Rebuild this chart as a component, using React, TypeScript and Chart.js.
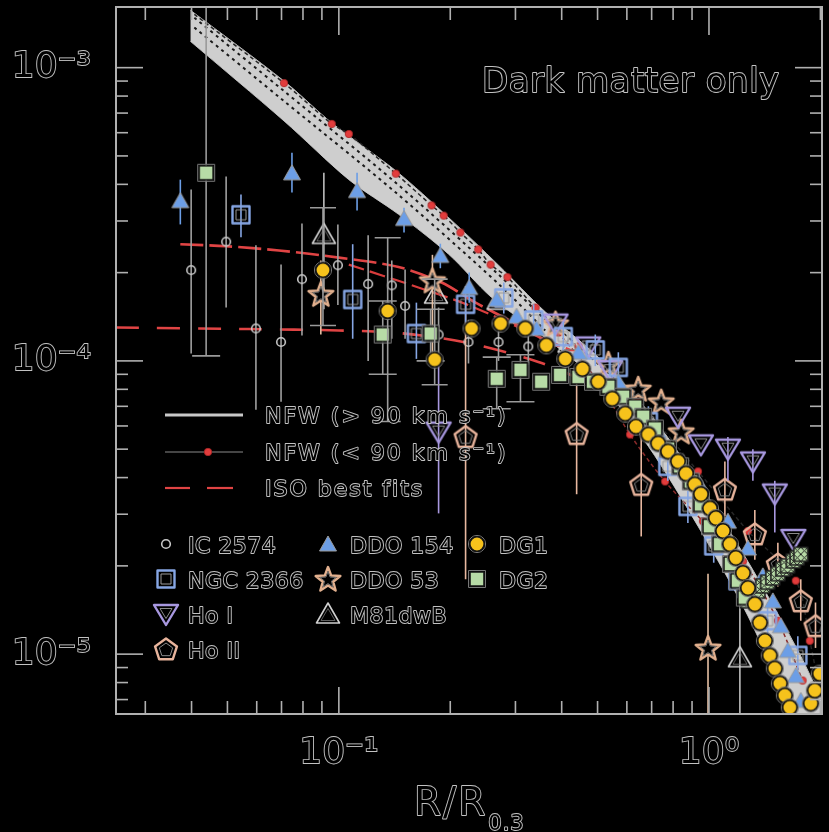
import React, { useEffect, useRef } from 'react';
import { Chart, registerables } from 'chart.js';

Chart.register(...registerables);

// ---------- axes ----------
const X_MIN = 0.025;
const X_MAX = 2.02;
const Y_MIN = 6.25e-6;
const Y_MAX = 1.61e-3;
const xTickValues = [0.1, 1];
const xTickLabels = ['10⁻¹', '10⁰'];
const yTickValues = [1e-5, 1e-4, 1e-3];
const yTickLabels = ['10⁻⁵', '10⁻⁴', '10⁻³'];
const xMinorTicks = [0.03, 0.04, 0.05, 0.06, 0.07, 0.08, 0.09, 0.2, 0.3, 0.4, 0.5, 0.6, 0.7, 0.8, 0.9, 2];
const yMinorTicks = [7e-6, 8e-6, 9e-6, 2e-5, 3e-5, 4e-5, 5e-5, 6e-5, 7e-5, 8e-5, 9e-5, 2e-4, 3e-4, 4e-4, 5e-4, 6e-4, 7e-4, 8e-4, 9e-4];
const xTitleMain = 'R/R';
const xTitleSub = '0.3';
const panelLabel = 'Dark matter only';
const lineLegendLabels = ['NFW (> 90 km s⁻¹)', 'NFW (< 90 km s⁻¹)', 'ISO best fits'];

// ---------- galaxies ----------
const ic2574X = [0.0399, 0.0496, 0.0597, 0.0698, 0.0795, 0.0994, 0.120, 0.139, 0.151, 0.186, 0.224, 0.270, 0.325];
const ic2574Y = [2.04e-4, 2.55e-4, 1.29e-4, 1.16e-4, 1.90e-4, 2.12e-4, 1.83e-4, 1.81e-4, 1.54e-4, 1.23e-4, 1.16e-4, 1.16e-4, 1.12e-4];
const ic2574Lo = [1.06e-4, 1.52e-4, 6.81e-5, 7.26e-5, 1.22e-4, 1.55e-4, 1.0e-4, 1.19e-4, 1.19e-4, 1.03e-4, 9.8e-5, 1.0e-4, 9.7e-5];
const ic2574Hi = [3.84e-4, 4.25e-4, 2.48e-4, 2.13e-4, 2.94e-4, 2.92e-4, 2.68e-4, 2.2e-4, 2.05e-4, 1.52e-4, 1.38e-4, 1.35e-4, 1.3e-4];

const ngc2366X = [0.0544, 0.109, 0.162, 0.220, 0.279, 0.336, 0.404, 0.493, 0.569, 0.686, 0.774, 0.877, 1.03, 1.197, 1.44, 1.738];
const ngc2366Y = [3.15e-4, 1.62e-4, 1.24e-4, 1.56e-4, 1.64e-4, 1.38e-4, 1.21e-4, 1.09e-4, 9.5e-5, 6.21e-5, 4.37e-5, 3.19e-5, 2.34e-5, 1.78e-5, 1.30e-5, 9.9e-6];
const ngc2366Lo = [2.64e-4, 1.19e-4, 1.016e-4, 1.35e-4, 1.45e-4, 1.22e-4, 1.08e-4, 9.6e-5, 8.4e-5, 5.5e-5, 3.9e-5, 2.8e-5, 2.05e-5, 1.55e-5, 1.12e-5, 8.5e-6];
const ngc2366Hi = [3.69e-4, 2.5e-4, 1.58e-4, 1.8e-4, 1.85e-4, 1.56e-4, 1.36e-4, 1.23e-4, 1.07e-4, 7.0e-5, 4.9e-5, 3.6e-5, 2.65e-5, 2.05e-5, 1.5e-5, 1.15e-5];

const hoIX = [0.186, 0.385, 0.472, 0.541, 0.825, 0.951, 1.125, 1.314, 1.506, 1.69];
const hoIY = [5.74e-5, 1.34e-4, 1.12e-4, 9.3e-5, 6.45e-5, 5.19e-5, 5.02e-5, 4.54e-5, 3.53e-5, 2.47e-5];
const hoILo = [3.02e-5, null, null, null, null, null, 3.9e-5, 3.9e-5, 2.6e-5, null];
const hoIHi = [1.0e-4, null, null, null, null, null, 5.5e-5, 5.0e-5, 3.9e-5, null];

const hoIIX = [0.220, 0.439, 0.656, 1.104, 1.33, 1.535, 1.77, 1.94];
const hoIIY = [5.52e-5, 5.65e-5, 3.79e-5, 3.65e-5, 2.57e-5, 2.03e-5, 1.52e-5, 1.25e-5];
const hoIILo = [1.80e-5, 3.51e-5, 2.52e-5, 2.95e-5, 2.1e-5, 1.7e-5, 1.3e-5, 1.05e-5];
const hoIIHi = [1.58e-4, 9.5e-5, 5.74e-5, 4.54e-5, 3.1e-5, 2.4e-5, 1.8e-5, 1.5e-5];

const ddo154X = [0.0373, 0.0747, 0.112, 0.150, 0.188, 0.225, 0.267, 0.302, 0.342, 0.444, 0.569, 0.729, 0.934, 1.125, 1.274, 1.398, 1.488, 1.563, 1.633, 1.716, 1.77];
const ddo154Y = [3.52e-4, 4.38e-4, 3.81e-4, 3.06e-4, 2.29e-4, 1.78e-4, 1.62e-4, 1.42e-4, 1.29e-4, 1.07e-4, 8.49e-5, 5.74e-5, 3.88e-5, 2.84e-5, 2.30e-5, 1.85e-5, 1.52e-5, 1.25e-5, 1.03e-5, 8.45e-6, 6.95e-6];
const ddo154Lo = [2.92e-4, 3.75e-4, 3.26e-4, 2.74e-4, 2.07e-4, 1.58e-4, null, null, null, null, null, null, null, null, null, null, null, null, null, null, null];
const ddo154Hi = [4.15e-4, 5.13e-4, 4.38e-4, 3.33e-4, 2.51e-4, 2.0e-4, null, null, null, null, null, null, null, null, null, null, null, null, null, null, null];

const ddo53X = [0.0894, 0.179, 0.385, 0.535, 0.644, 0.743, 0.841, 0.994];
const ddo53Y = [1.69e-4, 1.88e-4, 1.34e-4, 9.77e-5, 8.03e-5, 7.26e-5, 5.74e-5, 1.05e-5];
const ddo53Lo = [1.23e-4, 1.0e-4, null, null, null, null, null, 6.0e-6];
const ddo53Hi = [2.2e-4, 2.3e-4, null, null, null, null, null, 1.88e-5];

const m81dwbX = [0.0911, 0.183, 0.270, 0.42, 1.212];
const m81dwbY = [2.70e-4, 1.69e-4, 1.61e-4, 1.15e-4, 9.73e-6];
const m81dwbLo = [1.5e-4, null, null, null, 6.0e-6];
const m81dwbHi = [4.38e-4, null, null, null, 1.88e-5];

const dg1X = [0.0906, 0.1355, 0.1815, 0.2283, 0.2734, 0.319, 0.3636, 0.409, 0.455, 0.502, 0.548, 0.594, 0.635, 0.686, 0.729, 0.775, 0.825, 0.867, 0.916, 0.951, 1.006, 1.044, 1.091, 1.139, 1.182, 1.235, 1.274, 1.330, 1.372, 1.416, 1.459, 1.506, 1.554, 1.603, 1.653, 1.884, 1.931, 1.992];
const dg1Y = [2.04e-4, 1.48e-4, 1.01e-4, 1.29e-4, 1.34e-4, 1.29e-4, 1.13e-4, 1.016e-4, 9.39e-5, 8.49e-5, 7.43e-5, 6.61e-5, 5.97e-5, 5.61e-5, 5.23e-5, 4.91e-5, 4.54e-5, 4.13e-5, 3.79e-5, 3.51e-5, 3.14e-5, 2.91e-5, 2.63e-5, 2.37e-5, 2.13e-5, 1.89e-5, 1.68e-5, 1.48e-5, 1.28e-5, 1.11e-5, 9.89e-6, 8.93e-6, 7.94e-6, 7.23e-6, 6.58e-6, 6.79e-6, 7.52e-6, 8.58e-6];
const dg1Lo = [1.32e-4, 6.21e-5, 8.29e-5];
const dg1Hi = [3.33e-4, 2.63e-4, 1.9e-4];

const dg2X = [0.0438, 0.1314, 0.177, 0.267, 0.3095, 0.352, 0.396, 0.444, 0.486, 0.535, 0.586, 0.632, 0.664, 0.714, 0.775, 0.836, 0.893, 0.951, 1.006, 1.071, 1.146, 1.197, 1.25];
const dg2Y = [4.38e-4, 1.23e-4, 1.24e-4, 8.69e-5, 9.32e-5, 8.49e-5, 8.96e-5, 8.82e-5, 8.49e-5, 8.16e-5, 7.55e-5, 6.98e-5, 6.45e-5, 5.88e-5, 5.02e-5, 4.37e-5, 3.88e-5, 3.24e-5, 2.73e-5, 2.37e-5, 2.03e-5, 1.78e-5, 1.56e-5];
const dg2Lo = [1.04e-4, 9.0e-5, 1.0e-4, 6.87e-5, 7.26e-5];
const dg2Hi = [1.7e-3, 1.6e-4, 1.5e-4, 1.03e-4, 1.05e-4];

const dg2OuterX = [1.27, 1.314, 1.355, 1.398, 1.44, 1.488, 1.535, 1.583, 1.63, 1.69, 1.73, 1.77];
const dg2OuterY = [1.52e-5, 1.58e-5, 1.64e-5, 1.71e-5, 1.76e-5, 1.82e-5, 1.88e-5, 1.95e-5, 2.0e-5, 2.08e-5, 2.13e-5, 2.19e-5];

// ---------- models ----------
const nfwBandX = [0.0397, 0.0711, 0.0957, 0.1425, 0.198, 0.270, 0.361, 0.502, 0.686, 0.934, 1.274, 1.738, 2.02];
const nfwBandUpper = [1.57e-3, 9.0e-4, 6.48e-4, 4.45e-4, 3.08e-4, 2.12e-4, 1.47e-4, 1.03e-4, 6.71e-5, 3.88e-5, 2.07e-5, 1.03e-5, 6.95e-6];
const nfwBandLowerX = [0.0397, 0.0711, 0.1064, 0.145, 0.198, 0.258, 0.346, 0.502, 0.686, 0.934, 1.274, 1.633, 2.02];
const nfwBandLower = [1.23e-3, 6.58e-4, 4.15e-4, 3.16e-4, 2.31e-4, 1.65e-4, 1.25e-4, 8.49e-5, 5.11e-5, 2.73e-5, 1.35e-5, 6.68e-6, 3.5e-6];

const nfwLowAX = [0.0407, 0.0711, 0.0957, 0.1064, 0.1425, 0.178, 0.192, 0.213, 0.238, 0.257, 0.2855, 0.340, 0.444, 0.644, 0.934, 1.274, 1.716, 1.872, 1.992];
const nfwLowAY = [1.52e-3, 8.86e-4, 6.43e-4, 5.94e-4, 4.35e-4, 3.39e-4, 3.13e-4, 2.74e-4, 2.40e-4, 2.13e-4, 1.93e-4, 1.52e-4, 1.12e-4, 7.26e-5, 4.2e-5, 2.63e-5, 1.78e-5, 1.11e-5, 7.52e-6];
const nfwLowBX = [0.392, 0.502, 0.612, 0.761, 0.963, 1.235, 1.535, 1.79];
const nfwLowBY = [1.25e-4, 8.49e-5, 5.61e-5, 3.88e-5, 2.84e-5, 2.07e-5, 1.30e-5, 8.13e-6];

const nfwDash1X = [0.0407, 0.0711, 0.1425, 0.270, 0.361];
const nfwDash1Y = [1.48e-3, 8.32e-4, 4.05e-4, 1.97e-4, 1.38e-4];
const nfwDash2X = [0.0407, 0.0711, 0.1425, 0.270, 0.361];
const nfwDash2Y = [1.37e-3, 7.69e-4, 3.75e-4, 1.83e-4, 1.27e-4];

const iso1X = [0.025, 0.0572, 0.1, 0.145, 0.217, 0.346, 0.502];
const iso1Y = [1.30e-4, 1.284e-4, 1.27e-4, 1.245e-4, 1.16e-4, 9.92e-5, 8.16e-5];
const iso2X = [0.0373, 0.0496, 0.0689, 0.1, 0.145, 0.1895, 0.234, 0.287, 0.346, 0.444];
const iso2Y = [2.50e-4, 2.46e-4, 2.38e-4, 2.25e-4, 2.09e-4, 1.85e-4, 1.58e-4, 1.38e-4, 1.21e-4, 1.06e-4];
const iso3X = [0.1064, 0.164, 0.224, 0.306, 0.392];
const iso3Y = [2.13e-4, 1.78e-4, 1.55e-4, 1.30e-4, 1.12e-4];

// ---------- helpers ----------
const pts = (xs: number[], ys: number[]) => xs.map((x, i) => ({ x, y: ys[i] }));

function mk(size: number, draw: (c: CanvasRenderingContext2D, m: number) => void) {
  const cv = document.createElement('canvas');
  cv.width = size;
  cv.height = size;
  const c = cv.getContext('2d') as CanvasRenderingContext2D;
  c.lineJoin = 'round';
  draw(c, size / 2);
  return cv;
}
function poly(c: CanvasRenderingContext2D, cx: number, cy: number, r: number, n: number, rot: number) {
  c.beginPath();
  for (let i = 0; i < n; i++) {
    const a = rot + (i * 2 * Math.PI) / n;
    const x = cx + r * Math.cos(a);
    const y = cy + r * Math.sin(a);
    if (i) c.lineTo(x, y); else c.moveTo(x, y);
  }
  c.closePath();
}
function starPath(c: CanvasRenderingContext2D, cx: number, cy: number, ro: number, ri: number) {
  c.beginPath();
  for (let i = 0; i < 10; i++) {
    const r = i % 2 ? ri : ro;
    const a = -Math.PI / 2 + (i * Math.PI) / 5;
    const x = cx + r * Math.cos(a);
    const y = cy + r * Math.sin(a);
    if (i) c.lineTo(x, y); else c.moveTo(x, y);
  }
  c.closePath();
}

function makeMarkers() {
  return {
    ic: mk(14, (c, m) => {
      c.beginPath(); c.arc(m, m, 4.3, 0, Math.PI * 2);
      c.strokeStyle = '#c8c8c8'; c.lineWidth = 1.6; c.stroke();
    }),
    ngc: mk(22, (c) => {
      c.strokeStyle = '#86a6e4'; c.lineWidth = 2.4; c.strokeRect(2.5, 2.5, 17, 17);
      c.strokeStyle = '#9a9a9a'; c.lineWidth = 1; c.strokeRect(6, 6, 10, 10);
    }),
    hoI: mk(28, (c) => {
      c.beginPath(); c.moveTo(2, 5); c.lineTo(26, 5); c.lineTo(14, 25); c.closePath();
      c.strokeStyle = '#a898e0'; c.lineWidth = 2.4; c.stroke();
      c.beginPath(); c.moveTo(8, 8.5); c.lineTo(20, 8.5); c.lineTo(14, 18.5); c.closePath();
      c.strokeStyle = '#8a8a8a'; c.lineWidth = 1; c.stroke();
    }),
    hoII: mk(28, (c, m) => {
      poly(c, m, m + 1, 11.5, 5, -Math.PI / 2);
      c.strokeStyle = '#e8b49c'; c.lineWidth = 2.4; c.stroke();
      poly(c, m, m + 1, 7, 5, -Math.PI / 2);
      c.strokeStyle = '#8a8a8a'; c.lineWidth = 1; c.stroke();
    }),
    ddo154: mk(20, (c) => {
      c.beginPath(); c.moveTo(10, 2); c.lineTo(18.5, 17); c.lineTo(1.5, 17); c.closePath();
      c.fillStyle = '#6c9ee6'; c.fill();
      c.strokeStyle = '#9a9a9a'; c.lineWidth = 1; c.stroke();
    }),
    ddo53: mk(30, (c, m) => {
      starPath(c, m, m + 1, 13, 5.5);
      c.fillStyle = '#000'; c.fill();
      c.strokeStyle = '#e2b08e'; c.lineWidth = 2.4; c.stroke();
      starPath(c, m, m + 1, 8.5, 3.6);
      c.strokeStyle = '#777'; c.lineWidth = 1; c.stroke();
    }),
    m81: mk(26, (c) => {
      c.beginPath(); c.moveTo(13, 2); c.lineTo(24.5, 22); c.lineTo(1.5, 22); c.closePath();
      c.strokeStyle = '#d0d0d0'; c.lineWidth = 1.6; c.stroke();
      c.beginPath(); c.moveTo(13, 7.5); c.lineTo(20, 19.5); c.lineTo(6, 19.5); c.closePath();
      c.strokeStyle = '#777'; c.lineWidth = 0.8; c.stroke();
    }),
    dg1: mk(20, (c, m) => {
      c.beginPath(); c.arc(m, m, 8.6, 0, Math.PI * 2);
      c.strokeStyle = '#777'; c.lineWidth = 1; c.stroke();
      c.beginPath(); c.arc(m, m, 7.2, 0, Math.PI * 2);
      c.fillStyle = '#f6c21c'; c.fill();
      c.strokeStyle = '#141414'; c.lineWidth = 1.6; c.stroke();
    }),
    dg2: mk(20, (c) => {
      c.strokeStyle = '#777'; c.lineWidth = 1; c.strokeRect(1.5, 1.5, 17, 17);
      c.fillStyle = '#b7dba6'; c.fillRect(3, 3, 14, 14);
      c.strokeStyle = '#141414'; c.lineWidth = 1.6; c.strokeRect(3, 3, 14, 14);
    }),
    dg2h: mk(20, (c) => {
      c.fillStyle = '#b7dba6'; c.fillRect(3, 3, 14, 14);
      c.strokeStyle = '#1e1e1e'; c.lineWidth = 1;
      c.beginPath();
      c.moveTo(3, 10); c.lineTo(10, 3); c.moveTo(3, 17); c.lineTo(17, 3); c.moveTo(10, 17); c.lineTo(17, 10);
      c.moveTo(3, 10); c.lineTo(10, 17); c.moveTo(3, 3); c.lineTo(17, 17); c.moveTo(10, 3); c.lineTo(17, 10);
      c.stroke();
      c.lineWidth = 1.6; c.strokeRect(3, 3, 14, 14);
    }),
    nfwDot: mk(10, (c, m) => {
      c.beginPath(); c.arc(m, m, 3.7, 0, Math.PI * 2);
      c.fillStyle = '#e23c3c'; c.fill();
      c.strokeStyle = '#a82626'; c.lineWidth = 0.8; c.stroke();
    }),
  };
}

function hollowText(ctx: CanvasRenderingContext2D, text: string, x: number, y: number, size: number, align: CanvasTextAlign = 'left', spacing = '0px') {
  ctx.save();
  ctx.font = `${size}px "DejaVu Sans"`;
  ctx.textAlign = align;
  ctx.textBaseline = 'alphabetic';
  (ctx as any).letterSpacing = spacing;
  ctx.lineJoin = 'round';
  ctx.strokeStyle = '#c2c2c2';
  ctx.lineWidth = 1.8;
  ctx.strokeText(text, x, y);
  ctx.fillStyle = '#000';
  ctx.fillText(text, x, y);
  const w = ctx.measureText(text).width;
  ctx.restore();
  return w;
}

export default function App() {
  const ref = useRef<HTMLCanvasElement>(null);

  useEffect(() => {
    const canvas = ref.current as HTMLCanvasElement;
    const M = makeMarkers();

    const errorBars = {
      id: 'errorBars',
      beforeDatasetDraw(chart: any, args: any) {
        const ds: any = chart.data.datasets[args.index];
        if (!ds.errLo) return;
        const { ctx, chartArea: a } = chart;
        const xs = chart.scales.x;
        const ys = chart.scales.y;
        ctx.save();
        ctx.beginPath();
        ctx.rect(a.left, a.top, a.right - a.left, a.bottom - a.top);
        ctx.clip();
        ctx.strokeStyle = ds.errColor;
        ctx.lineWidth = 1.6;
        ds.data.forEach((p: any, i: number) => {
          const lo = ds.errLo[i];
          const hi = ds.errHi[i];
          if (lo == null || hi == null) return;
          const px = xs.getPixelForValue(p.x);
          const y1 = ys.getPixelForValue(hi);
          const y2 = ys.getPixelForValue(lo);
          ctx.beginPath();
          ctx.moveTo(px, y1);
          ctx.lineTo(px, y2);
          if (ds.errCap) {
            ctx.moveTo(px - ds.errCap, y2);
            ctx.lineTo(px + ds.errCap, y2);
            ctx.moveTo(px - ds.errCap, y1);
            ctx.lineTo(px + ds.errCap, y1);
          }
          ctx.stroke();
        });
        ctx.restore();
      },
    };

    const decor = {
      id: 'decor',
      afterDatasetsDraw(chart: any) {
        const { ctx, chartArea: a } = chart;
        const xs = chart.scales.x;
        const ys = chart.scales.y;
        ctx.save();
        ctx.strokeStyle = '#b0b0b0';
        ctx.lineWidth = 1.6;
        const seg = (x1: number, y1: number, x2: number, y2: number) => {
          ctx.beginPath(); ctx.moveTo(x1, y1); ctx.lineTo(x2, y2); ctx.stroke();
        };
        xTickValues.forEach((v) => { const p = xs.getPixelForValue(v); seg(p, a.bottom, p, a.bottom - 27); seg(p, a.top, p, a.top + 28); });
        xMinorTicks.forEach((v) => { const p = xs.getPixelForValue(v); seg(p, a.bottom, p, a.bottom - 13); seg(p, a.top, p, a.top + 13); });
        yTickValues.forEach((v) => { const p = ys.getPixelForValue(v); seg(a.left, p, a.left + 27, p); seg(a.right, p, a.right - 27, p); });
        yMinorTicks.forEach((v) => { const p = ys.getPixelForValue(v); seg(a.left, p, a.left + 12, p); seg(a.right, p, a.right - 12, p); });
        ctx.lineWidth = 2;
        ctx.strokeRect(a.left, a.top, a.right - a.left, a.bottom - a.top);

        // panel label
        hollowText(ctx, panelLabel, 482, 92, 34, 'left', '0.5px');

        // legend: model lines
        ctx.lineWidth = 3; ctx.strokeStyle = '#c8c8c8';
        seg(165, 415, 243, 415);
        ctx.lineWidth = 1; ctx.strokeStyle = '#8a8a8a';
        seg(165, 452, 243, 452);
        ctx.drawImage(M.nfwDot, 208 - 5, 452 - 5);
        ctx.lineWidth = 2.2; ctx.strokeStyle = '#e04444';
        seg(165, 488, 190, 488);
        seg(207, 488, 233, 488);
        hollowText(ctx, lineLegendLabels[0], 265, 423, 22, 'left', '2px');
        hollowText(ctx, lineLegendLabels[1], 265, 460, 22, 'left', '2px');
        hollowText(ctx, lineLegendLabels[2], 265, 496, 22, 'left', '2px');

        // legend: galaxies
        const items: [HTMLCanvasElement, string, number, number][] = [
          [M.ic, 'IC 2574', 166, 544], [M.ngc, 'NGC 2366', 166, 579], [M.hoI, 'Ho I', 166, 614], [M.hoII, 'Ho II', 166, 649],
          [M.ddo154, 'DDO 154', 328, 544], [M.ddo53, 'DDO 53', 328, 579], [M.m81, 'M81dwB', 328, 614],
          [M.dg1, 'DG1', 477, 544], [M.dg2, 'DG2', 477, 579],
        ];
        items.forEach(([img, name, x, y]) => {
          ctx.drawImage(img, x - img.width / 2, y - img.height / 2);
          hollowText(ctx, name, x + 22, y + 8.5, 22, 'left', '0.5px');
        });

        // x-axis title with subscript
        const w = hollowText(ctx, xTitleMain, 414, 815, 39, 'left', '2px');
        hollowText(ctx, xTitleSub, 414 + w + 1, 830, 21, 'left', '1px');
        ctx.restore();
      },
    };

    const scatterSet = (label: string, xsArr: number[], ysArr: number[], marker: HTMLCanvasElement, errLo?: (number | null)[], errHi?: (number | null)[], errColor?: string, errCap?: number) => ({
      label,
      data: pts(xsArr, ysArr),
      showLine: false,
      pointStyle: marker,
      pointRadius: 6,
      clip: 0,
      errLo,
      errHi,
      errColor,
      errCap,
    });
    const lineSet = (label: string, xsArr: number[], ysArr: number[], color: string, width: number, dash: number[], extra: any = {}) => ({
      label,
      data: pts(xsArr, ysArr),
      showLine: true,
      borderColor: color,
      borderWidth: width,
      borderDash: dash,
      pointRadius: 0,
      tension: 0.3,
      fill: false,
      clip: 0,
      ...extra,
    });

    const dg1Err = dg1X.map((_, i) => (i < dg1Lo.length ? dg1Lo[i] : null));
    const dg1ErrH = dg1X.map((_, i) => (i < dg1Hi.length ? dg1Hi[i] : null));
    const dg2Err = dg2X.map((_, i) => (i < dg2Lo.length ? dg2Lo[i] : null));
    const dg2ErrH = dg2X.map((_, i) => (i < dg2Hi.length ? dg2Hi[i] : null));

    const datasets: any[] = [
      scatterSet('DG1', dg1X, dg1Y, M.dg1, dg1Err, dg1ErrH, '#9a9a9a', 13),
      scatterSet('DG2', dg2X, dg2Y, M.dg2, dg2Err, dg2ErrH, '#9a9a9a', 14),
      scatterSet('DG2 (outer)', dg2OuterX, dg2OuterY, M.dg2h),
      scatterSet('DDO 154', ddo154X, ddo154Y, M.ddo154, ddo154Lo, ddo154Hi, '#6c9ee6'),
      scatterSet('NGC 2366', ngc2366X, ngc2366Y, M.ngc, ngc2366Lo, ngc2366Hi, '#86a6e4'),
      scatterSet('Ho I', hoIX, hoIY, M.hoI, hoILo, hoIHi, '#a898e0'),
      scatterSet('Ho II', hoIIX, hoIIY, M.hoII, hoIILo, hoIIHi, '#e8b8a0'),
      scatterSet('DDO 53', ddo53X, ddo53Y, M.ddo53, ddo53Lo, ddo53Hi, '#e6c0a4'),
      scatterSet('M81dwB', m81dwbX, m81dwbY, M.m81, m81dwbLo, m81dwbHi, '#bdbdbd'),
      scatterSet('IC 2574', ic2574X, ic2574Y, M.ic, ic2574Lo, ic2574Hi, '#a0a0a0'),
      lineSet('ISO best fit 1', iso1X, iso1Y, '#e04444', 2.6, [23, 18]),
      lineSet('ISO best fit 2', iso2X, iso2Y, '#e04444', 2.6, [23, 6]),
      lineSet('ISO best fit 3', iso3X, iso3Y, '#d83c3c', 2.2, [16, 6]),
      lineSet('NFW (< 90) a', nfwLowAX, nfwLowAY, '#262626', 1.5, [4, 3], {
        pointStyle: M.nfwDot,
        pointRadius: nfwLowAX.map((_, i) => (i === 0 ? 0 : 4)),
      }),
      lineSet('NFW (< 90) b', nfwLowBX, nfwLowBY, '#8a2a2a', 1.5, [4, 3], {
        pointStyle: M.nfwDot,
        pointRadius: 4,
      }),
      lineSet('NFW dash 1', nfwDash1X, nfwDash1Y, '#1a1a1a', 2, [3, 4]),
      lineSet('NFW dash 2', nfwDash2X, nfwDash2Y, '#1a1a1a', 2, [3, 4]),
      lineSet('NFW (> 90) upper', nfwBandX, nfwBandUpper, '#bdbdbd', 1, [], {
        fill: '+1',
        backgroundColor: 'rgba(206,206,206,1)',
      }),
      lineSet('NFW (> 90) lower', nfwBandLowerX, nfwBandLower, '#a8a8a8', 1, []),
    ];

    const tickFont = { family: 'DejaVu Sans', size: 36 };
    const findLabel = (vals: number[], labels: string[], v: number) => {
      const i = vals.findIndex((t) => Math.abs(Math.log10(t) - Math.log10(v)) < 1e-6);
      return i >= 0 ? labels[i] : '';
    };

    const chart = new Chart(canvas, {
      type: 'scatter',
      data: { datasets },
      options: {
        responsive: false,
        animation: false,
        devicePixelRatio: 1,
        events: [],
        layout: { padding: { top: 4, right: 5, bottom: 0, left: 0 } },
        plugins: { legend: { display: false }, tooltip: { enabled: false } },
        scales: {
          x: {
            type: 'logarithmic',
            min: X_MIN,
            max: X_MAX,
            grid: { display: false },
            border: { display: false },
            afterBuildTicks: (s: any) => { s.ticks = xTickValues.map((v) => ({ value: v })); },
            afterFit: (s: any) => { s.height = 118; s.paddingLeft = 0; s.paddingRight = 0; s.paddingTop = 0; s.paddingBottom = 0; },
            ticks: {
              autoSkip: false,
              maxRotation: 0,
              padding: 10,
              font: tickFont,
              color: '#000',
              textStrokeColor: '#c2c2c2',
              textStrokeWidth: 1.8,
              callback: (v: any) => findLabel(xTickValues, xTickLabels, Number(v)),
            },
          },
          y: {
            type: 'logarithmic',
            min: Y_MIN,
            max: Y_MAX,
            grid: { display: false },
            border: { display: false },
            afterBuildTicks: (s: any) => { s.ticks = yTickValues.map((v) => ({ value: v })); },
            afterFit: (s: any) => { s.width = 116; s.paddingLeft = 0; s.paddingRight = 0; s.paddingTop = 0; s.paddingBottom = 0; },
            ticks: {
              autoSkip: false,
              padding: 17,
              font: tickFont,
              color: '#000',
              textStrokeColor: '#c2c2c2',
              textStrokeWidth: 1.8,
              callback: (v: any) => findLabel(yTickValues, yTickLabels, Number(v)),
            },
          },
        },
      } as any,
      plugins: [errorBars, decor],
    });

    return () => chart.destroy();
  }, []);

  return (
    <div style={{ position: 'absolute', left: 0, top: 0, width: 829, height: 832, background: '#000' }}>
      <canvas ref={ref} width={829} height={832} style={{ display: 'block', width: 829, height: 832 }} />
    </div>
  );
}
